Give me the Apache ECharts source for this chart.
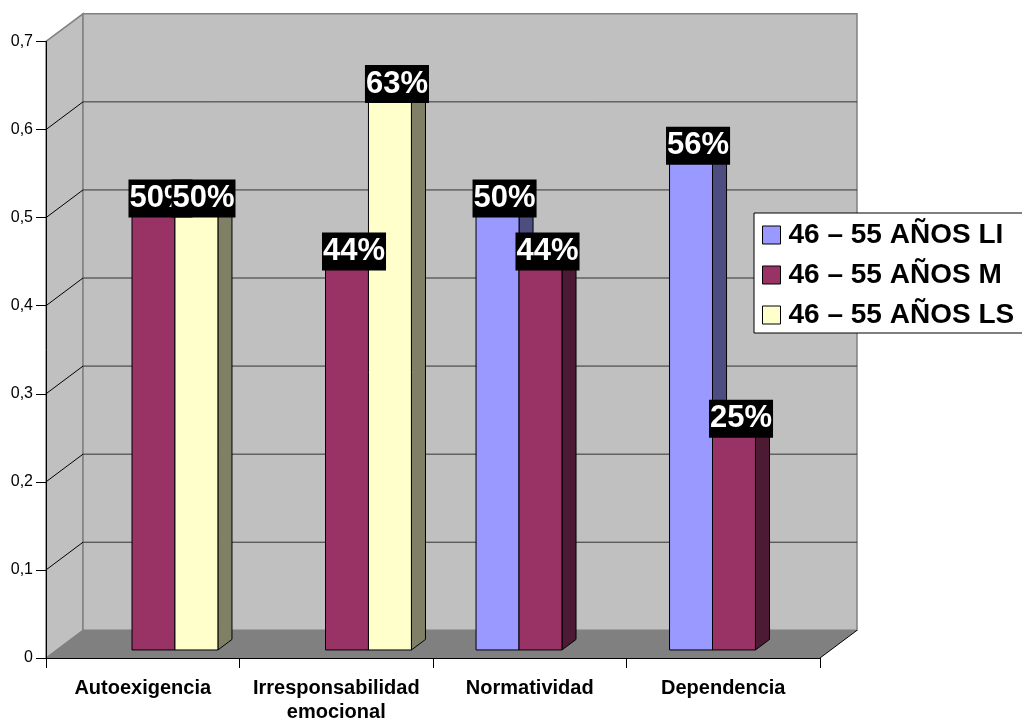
<!DOCTYPE html>
<html>
<head>
<meta charset="utf-8">
<script src="https://cdn.jsdelivr.net/npm/echarts@6/dist/echarts.min.js"></script>
<style>
  html, body { margin: 0; padding: 0; background: #fff; }
  #chart { width: 1022px; height: 724px; }
</style>
</head>
<body>
<div id="chart"></div>
<script>
// ---- data ----
const CATEGORIES = ['Autoexigencia', 'Irresponsabilidad\nemocional', 'Normatividad', 'Dependencia'];
const SERIES_NAMES = ['46 – 55 AÑOS LI', '46 – 55 AÑOS M', '46 – 55 AÑOS LS'];
const VALUES_LI = [null, null, 0.50, 0.56];
const VALUES_M  = [0.50, 0.44, 0.44, 0.25];
const VALUES_LS = [0.50, 0.63, null, null];
const Y_MIN = 0, Y_MAX = 0.7, Y_STEP = 0.1;

// ---- styling ----
const FONT = '"Liberation Sans", Arial, sans-serif';
const FRONT_COLORS = ['#9999FF', '#993366', '#FFFFCC'];
const SIDE_COLORS  = ['#4D4D80', '#4D1A33', '#808066'];
const TOP_COLORS   = ['#8C8CEB', '#8A2E5C', '#E6E6B8'];
const DEPTH_X = 37, DEPTH_Y = 27.7;
const BAR_FRONT = 0.29, BAR_BACK = 0.67, BAR_FRAC = 0.222;

const chart = echarts.init(document.getElementById('chart'), null, { renderer: 'canvas' });

function wallsRender(params, api) {
  const cs = params.coordSys;
  const xL = cs.x, xR = cs.x + cs.width;
  const y0 = api.coord([0, Y_MIN])[1];
  const yT = api.coord([0, Y_MAX])[1];
  const children = [];
  children.push({ type: 'polygon', shape: { points: [[xL, y0], [xL + DEPTH_X, y0 - DEPTH_Y], [xL + DEPTH_X, yT - DEPTH_Y], [xL, yT]] },
    style: { fill: '#C0C0C0', stroke: '#808080', lineWidth: 1.5 } });
  children.push({ type: 'rect', shape: { x: xL + DEPTH_X, y: yT - DEPTH_Y, width: xR - xL, height: y0 - yT },
    style: { fill: '#C0C0C0', stroke: '#808080', lineWidth: 1.5 } });
  children.push({ type: 'polygon', shape: { points: [[xL, y0], [xR, y0], [xR + DEPTH_X, y0 - DEPTH_Y], [xL + DEPTH_X, y0 - DEPTH_Y]] },
    style: { fill: '#808080' } });
  children.push({ type: 'line', shape: { x1: xR, y1: y0, x2: xR + DEPTH_X, y2: y0 - DEPTH_Y },
    style: { stroke: '#000', lineWidth: 1 } });
  const n = Math.round((Y_MAX - Y_MIN) / Y_STEP);
  for (let k = 1; k < n; k++) {
    const y = api.coord([0, Y_MIN + k * Y_STEP])[1];
    children.push({ type: 'line', shape: { x1: xL, y1: y, x2: xL + DEPTH_X, y2: y - DEPTH_Y }, style: { stroke: '#000', lineWidth: 1 } });
    children.push({ type: 'line', shape: { x1: xL + DEPTH_X, y1: y - DEPTH_Y, x2: xR + DEPTH_X, y2: y - DEPTH_Y }, style: { stroke: '#333', lineWidth: 1 } });
  }
  return { type: 'group', children: children };
}

function makeBarRender(s) {
  return function (params, api) {
    const c = api.value(0), v = api.value(1);
    if (v == null || isNaN(v)) return null;
    const catW = api.size([1, 0])[0];
    const base = api.coord([c, Y_MIN]);
    const top = api.coord([c, v]);
    const bw = catW * BAR_FRAC;
    const fx = DEPTH_X * BAR_FRONT, fy = DEPTH_Y * BAR_FRONT;
    const ddx = DEPTH_X * (BAR_BACK - BAR_FRONT), ddy = DEPTH_Y * (BAR_BACK - BAR_FRONT);
    const x0 = base[0] + (s - 1.5) * bw + fx;
    const x1 = x0 + bw;
    const yB = base[1] - fy, yT = top[1] - fy;
    const line = { stroke: '#000', lineWidth: 1 };
    return {
      type: 'group',
      children: [
        { type: 'polygon', shape: { points: [[x1, yT], [x1 + ddx, yT - ddy], [x1 + ddx, yB - ddy], [x1, yB]] },
          style: Object.assign({ fill: SIDE_COLORS[s] }, line) },
        { type: 'polygon', shape: { points: [[x0, yT], [x1, yT], [x1 + ddx, yT - ddy], [x0 + ddx, yT - ddy]] },
          style: Object.assign({ fill: TOP_COLORS[s] }, line) },
        { type: 'rect', shape: { x: x0, y: yT, width: bw, height: yB - yT },
          style: Object.assign({ fill: FRONT_COLORS[s] }, line) },
        { type: 'text', z2: 100, x: x0 + (bw + ddx) / 2, y: yT - 11,
          style: { text: Math.round(v * 100) + '%', font: 'bold 31px ' + FONT, fill: '#fff',
                   backgroundColor: '#000', padding: [4, 1, 3, 1], align: 'center', verticalAlign: 'middle' } }
      ]
    };
  };
}

const ALL = [VALUES_LI, VALUES_M, VALUES_LS];
const barSeries = ALL.map(function (arr, s) {
  return {
    type: 'custom',
    name: SERIES_NAMES[s],
    z: 2,
    itemStyle: { color: FRONT_COLORS[s] },
    encode: { x: 0, y: 1 },
    data: arr.map(function (v, i) { return [i, v]; }).filter(function (d) { return d[1] != null; }),
    renderItem: makeBarRender(s)
  };
});

chart.setOption({
  animation: false,
  backgroundColor: '#fff',
  textStyle: { fontFamily: FONT },
  grid: { left: 46, right: 202, top: 41.5, bottom: 66, containLabel: false },
  legend: {
    data: SERIES_NAMES,
    orient: 'vertical',
    left: 754, top: 213,
    padding: [8, 40, 4, 8],
    itemGap: 12,
    itemWidth: 18, itemHeight: 18,
    icon: 'rect',
    itemStyle: { borderColor: '#000', borderWidth: 1 },
    backgroundColor: '#fff',
    borderColor: '#000', borderWidth: 1,
    textStyle: { fontFamily: FONT, fontWeight: 'bold', fontSize: 28, lineHeight: 28, color: '#000', padding: [0, 0, 0, 3] }
  },
  xAxis: {
    type: 'category',
    data: CATEGORIES,
    z: 5,
    axisLine: { show: true, lineStyle: { color: '#000', width: 1 } },
    axisTick: { show: true, length: 10, interval: 0, lineStyle: { color: '#000' } },
    axisLabel: { interval: 0, color: '#000', fontFamily: FONT, fontWeight: 'bold', fontSize: 20, lineHeight: 24, margin: 18 },
    splitLine: { show: false }
  },
  yAxis: {
    type: 'value',
    min: Y_MIN, max: Y_MAX, interval: Y_STEP,
    z: 5,
    axisLine: { show: true, lineStyle: { color: '#000', width: 1 } },
    axisTick: { show: true, length: 10, lineStyle: { color: '#000' } },
    axisLabel: { color: '#000', fontFamily: FONT, fontSize: 16, margin: 13,
      formatter: function (v) { return v === 0 ? '0' : v.toFixed(1).replace('.', ','); } },
    splitLine: { show: false }
  },
  series: [{
    type: 'custom',
    name: 'walls',
    z: 1,
    silent: true,
    encode: { x: 0, y: 1 },
    data: [[0, 0]],
    renderItem: wallsRender
  }].concat(barSeries)
});
</script>
</body>
</html>
